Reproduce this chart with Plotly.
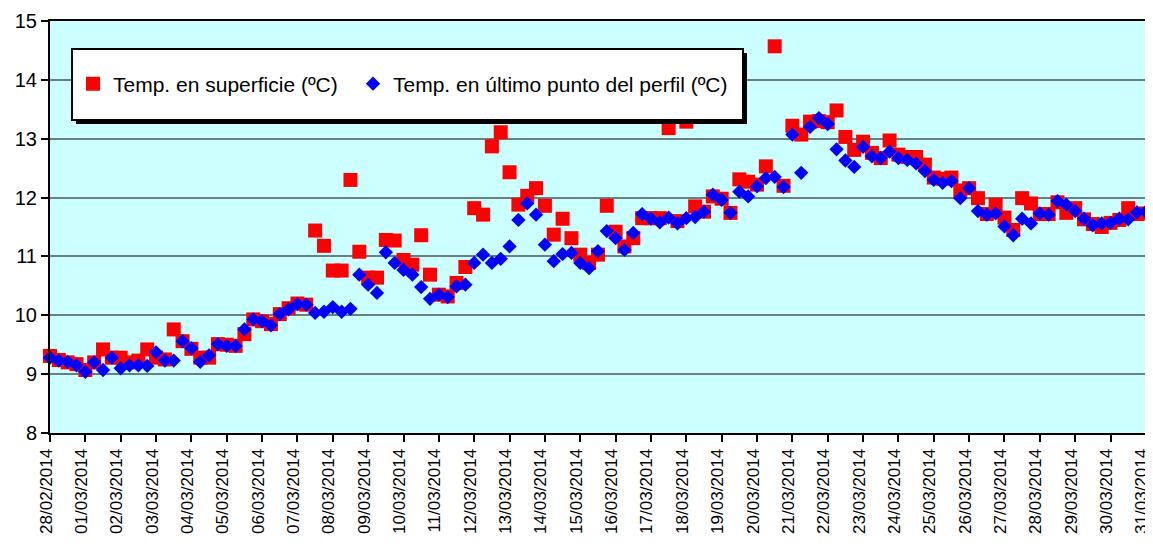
import pandas as pd
import plotly.graph_objects as go

# Muestras cada 6 horas, del 28/02/2014 al 31/03/2014
fechas = pd.date_range("2014-02-28 00:00", periods=125, freq="6h")

# Temp. en superficie (ºC)
t_superficie = [
    9.31, 9.24, 9.20, 9.17, 9.07, 9.20, 9.42, 9.28, 9.28, 9.20,
    9.23, 9.42, 9.28, 9.25, 9.76, 9.56, 9.43, 9.28, 9.28, 9.51,
    9.50, 9.48, 9.68, 9.93, 9.90, 9.85, 10.02, 10.12, 10.20, 10.18,
    11.44, 11.18, 10.76, 10.76, 12.30, 11.08, 10.64, 10.64, 11.28, 11.27,
    10.94, 10.86, 11.36, 10.69, 10.35, 10.32, 10.55, 10.82, 11.82, 11.71,
    12.87, 13.11, 12.43, 11.88, 12.03, 12.16, 11.86, 11.37, 11.64, 11.31,
    11.03, 10.89, 11.03, 11.86, 11.42, 11.17, 11.31, 11.65, 11.65, 11.65,
    13.18, 11.60, 13.29, 11.85, 11.76, 12.02, 11.98, 11.74, 12.31, 12.27,
    12.22, 12.53, 14.57, 12.20, 13.22, 13.07, 13.29, 13.30, 13.28, 13.48,
    13.03, 12.81, 12.95, 12.76, 12.67, 12.97, 12.73, 12.69, 12.69, 12.56,
    12.34, 12.32, 12.34, 12.12, 12.16, 11.99, 11.72, 11.88, 11.66, 11.45,
    11.99, 11.90, 11.72, 11.72, 11.92, 11.74, 11.82, 11.63, 11.55, 11.50,
    11.57, 11.62, 11.82, 11.72, 11.73,
]

# Temp. en último punto del perfil (ºC)
t_fondo = [
    9.28, 9.23, 9.21, 9.15, 9.04, 9.20, 9.07, 9.28, 9.10, 9.15,
    9.15, 9.14, 9.37, 9.23, 9.23, 9.56, 9.44, 9.21, 9.32, 9.51,
    9.48, 9.48, 9.76, 9.93, 9.90, 9.83, 10.02, 10.10, 10.19, 10.18,
    10.04, 10.06, 10.14, 10.06, 10.11, 10.69, 10.52, 10.38, 11.07, 10.89,
    10.77, 10.69, 10.48, 10.28, 10.35, 10.31, 10.49, 10.52, 10.89, 11.03,
    10.89, 10.96, 11.17, 11.62, 11.90, 11.71, 11.20, 10.92, 11.04, 11.06,
    10.89, 10.80, 11.09, 11.43, 11.31, 11.11, 11.40, 11.72, 11.64, 11.58,
    11.66, 11.56, 11.65, 11.67, 11.76, 12.05, 11.96, 11.74, 12.10, 12.02,
    12.19, 12.33, 12.35, 12.18, 13.07, 12.42, 13.20, 13.35, 13.25, 12.82,
    12.63, 12.52, 12.86, 12.70, 12.67, 12.78, 12.67, 12.64, 12.58, 12.45,
    12.30, 12.25, 12.28, 11.99, 12.16, 11.77, 11.71, 11.73, 11.51, 11.36,
    11.64, 11.56, 11.73, 11.71, 11.94, 11.88, 11.77, 11.64, 11.53, 11.56,
    11.57, 11.64, 11.63, 11.75, 11.76,
]

FONT = "Arial, Liberation Sans, sans-serif"

fig = go.Figure()

fig.add_trace(go.Scatter(
    x=fechas, y=t_superficie, mode="markers",
    name="Temp. en superficie (ºC)",
    marker=dict(symbol="square", size=14, color="#FF0000"),
    cliponaxis=False, legend="legend",
))
fig.add_trace(go.Scatter(
    x=fechas, y=t_fondo, mode="markers",
    name="Temp. en último punto del perfil (ºC)",
    marker=dict(symbol="diamond", size=11, color="#0000FF"),
    cliponaxis=False, legend="legend2",
))

# caja de la leyenda con sombra (coordenadas de papel)
W, H = 1096, 412
def px(x):
    return (x - 50) / W
def py(y):
    return (433 - y) / H

fig.add_shape(type="rect", xref="paper", yref="paper",
              x0=px(76), x1=px(747), y0=py(124), y1=py(53),
              fillcolor="black", line=dict(width=0), layer="above")
fig.add_shape(type="rect", xref="paper", yref="paper",
              x0=px(72), x1=px(743), y0=py(120), y1=py(49),
              fillcolor="white", line=dict(color="black", width=2), layer="above")

leyenda = dict(
    orientation="h", xanchor="left",
    y=py(84), yanchor="middle",
    bgcolor="rgba(0,0,0,0)",
    font=dict(size=21, family=FONT),
    itemsizing="trace",
)

# la página html añade 8 px de margen al body
fig.update_layout(
    width=1152, height=540,
    margin=dict(l=42, r=14, t=13, b=115),
    paper_bgcolor="white",
    plot_bgcolor="#CCFFFF",
    font=dict(family=FONT, color="black"),
    showlegend=True,
    legend=dict(leyenda, x=px(73)),
    legend2=dict(leyenda, x=px(353)),
)

fig.update_xaxes(
    type="date",
    range=["2014-02-28", "2014-03-31 00:05"],
    tick0="2014-02-28", dtick=86400000,
    tickformat="%d/%m/%Y",
    tickangle=-90,
    tickfont=dict(size=17),
    ticklabelshift=-4,
    ticks="outside", ticklen=7, tickwidth=2, tickcolor="black",
    showline=True, linecolor="black", linewidth=2, mirror=True,
    showgrid=False, zeroline=False, automargin=False,
    ticklabeloverflow="allow",
)
fig.update_yaxes(
    range=[8, 15], dtick=1,
    tickfont=dict(size=20),
    ticks="outside", ticklen=7, tickwidth=2, tickcolor="black",
    showline=True, linecolor="black", linewidth=2, mirror=True,
    showgrid=True, gridcolor="#678080", gridwidth=2,
    zeroline=False, automargin=False,
)

fig.write_html("out.html")
